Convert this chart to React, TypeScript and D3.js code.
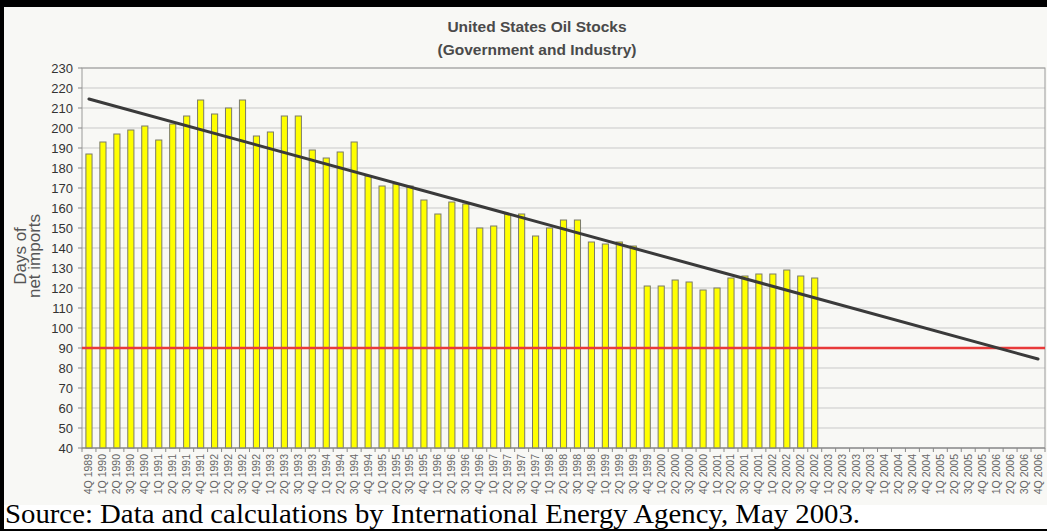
import { useEffect } from 'react'
import * as d3 from 'd3'

// US oil stocks in days of net imports (IEA, May 2003)
const QUARTERS = [
  '4Q 1989',
  '1Q 1990', '2Q 1990', '3Q 1990', '4Q 1990',
  '1Q 1991', '2Q 1991', '3Q 1991', '4Q 1991',
  '1Q 1992', '2Q 1992', '3Q 1992', '4Q 1992',
  '1Q 1993', '2Q 1993', '3Q 1993', '4Q 1993',
  '1Q 1994', '2Q 1994', '3Q 1994', '4Q 1994',
  '1Q 1995', '2Q 1995', '3Q 1995', '4Q 1995',
  '1Q 1996', '2Q 1996', '3Q 1996', '4Q 1996',
  '1Q 1997', '2Q 1997', '3Q 1997', '4Q 1997',
  '1Q 1998', '2Q 1998', '3Q 1998', '4Q 1998',
  '1Q 1999', '2Q 1999', '3Q 1999', '4Q 1999',
  '1Q 2000', '2Q 2000', '3Q 2000', '4Q 2000',
  '1Q 2001', '2Q 2001', '3Q 2001', '4Q 2001',
  '1Q 2002', '2Q 2002', '3Q 2002', '4Q 2002',
  '1Q 2003', '2Q 2003', '3Q 2003', '4Q 2003',
  '1Q 2004', '2Q 2004', '3Q 2004', '4Q 2004',
  '1Q 2005', '2Q 2005', '3Q 2005', '4Q 2005',
  '1Q 2006', '2Q 2006', '3Q 2006', '4Q 2006',
]

// one value per quarter, 4Q 1989 .. 4Q 2002
const DAYS = [
  187,
  193, 197, 199, 201,
  194, 202, 206, 214,
  207, 210, 214, 196,
  198, 206, 206, 189,
  185, 188, 193, 176,
  171, 172, 171, 164,
  157, 163, 162, 150,
  151, 157, 157, 146,
  150, 154, 154, 143,
  142, 143, 141, 121,
  121, 124, 123, 119,
  120, 125, 126, 127,
  127, 129, 126, 125,
]

// trend line end points
const TREND = [
  { q: '4Q 1989', v: 214.5 },
  { q: '4Q 2006', v: 84.5 },
]
const MIN_LEVEL = 90
const Y_TICKS = d3.range(40, 231, 10)

const W = 1047, H = 531
const M = { left: 82, right: 1045, top: 68, bottom: 448 }

export default function App() {
  useEffect(() => {
    document.body.style.margin = '0'
  }, [])

  const x = d3.scaleBand<string>().domain(QUARTERS).range([M.left, M.right])
    .paddingInner(0.56).paddingOuter(0.28)
  const y = d3.scaleLinear().domain([40, 230]).range([M.bottom, M.top])
  const cx = (q: string) => (x(q) ?? 0) + x.bandwidth() / 2

  const trendPath = d3.line<{ q: string, v: number }>()
    .x(d => cx(d.q)).y(d => y(d.v))(TREND) ?? ''

  const step = x.step()
  const tickXs = d3.range(QUARTERS.length + 1).map(i => M.left + i * step)

  return (
    <svg width={W} height={H} style={{ display: 'block' }} fontFamily="'Liberation Sans', Arial, sans-serif">
      <rect x={0} y={0} width={W} height={H} fill="#ffffff" />
      <rect x={0} y={0} width={W} height={505} fill="#f8f8f5" />
      <rect x={0} y={0} width={W} height={7} fill="#000" />
      <rect x={0} y={0} width={4} height={H} fill="#000" />
      <rect x={0} y={529} width={W} height={2} fill="#000" />

      <text x={537} y={32} textAnchor="middle" fontSize={15.5} fontWeight="bold" fill="#4a4a4a">United States Oil Stocks</text>
      <text x={537} y={55} textAnchor="middle" fontSize={15.5} fontWeight="bold" fill="#4a4a4a">(Government and Industry)</text>

      {/* gridlines */}
      {Y_TICKS.map(t => (
        <line key={t} x1={M.left} x2={M.right} y1={y(t)} y2={y(t)} stroke="#c9c9c9" strokeWidth={1} />
      ))}
      <rect x={M.left} y={M.top} width={M.right - M.left} height={M.bottom - M.top} fill="none" stroke="#9a9a9a" strokeWidth={1} />

      {/* y axis */}
      {Y_TICKS.map(t => (
        <g key={t}>
          <line x1={M.left - 4} x2={M.left} y1={y(t)} y2={y(t)} stroke="#888" />
          <text x={M.left - 9} y={y(t) + 4.5} textAnchor="end" fontSize={13} fill="#333">{t}</text>
        </g>
      ))}
      <g transform="translate(0,256) rotate(-90)" fill="#555" fontSize={17} textAnchor="middle">
        <text x={0} y={26}>Days of</text>
        <text x={0} y={40}>net imports</text>
      </g>

      {/* bars */}
      {DAYS.map((v, i) => (
        <rect key={QUARTERS[i]} x={x(QUARTERS[i])} y={y(v)} width={x.bandwidth()} height={y(40) - y(v)}
          fill="#ffff00" stroke="#7a7a6a" strokeWidth={1} />
      ))}

      {/* minimum level + trend */}
      <line x1={M.left} x2={M.right} y1={y(MIN_LEVEL)} y2={y(MIN_LEVEL)} stroke="#e83a3a" strokeWidth={2.5} />
      <path d={trendPath} fill="none" stroke="#3a3a3a" strokeWidth={3} strokeLinecap="round" />

      {/* x axis */}
      <line x1={M.left} x2={M.right} y1={M.bottom} y2={M.bottom} stroke="#888" />
      {tickXs.map((tx, i) => (
        <line key={i} x1={tx} x2={tx} y1={M.bottom} y2={M.bottom + 4} stroke="#888" />
      ))}
      {QUARTERS.map(q => (
        <text key={q} transform={`translate(${cx(q) + 3.5},${M.bottom + 6}) rotate(-90)`}
          textAnchor="end" fontSize={10.5} fill="#666">{q}</text>
      ))}

      <text x={5} y={523} fontFamily="'Liberation Serif', 'Times New Roman', serif" fontSize={28}
        textLength={855} lengthAdjust="spacingAndGlyphs" fill="#000">
        Source: Data and calculations by International Energy Agency, May 2003.
      </text>
    </svg>
  )
}
